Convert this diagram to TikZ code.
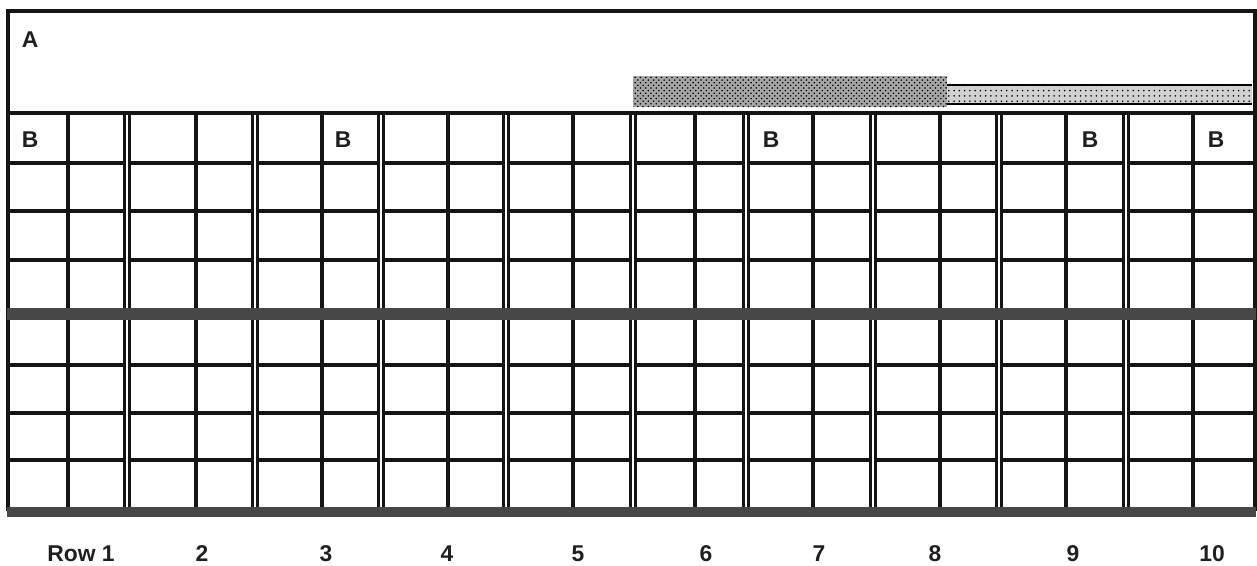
\documentclass[tikz,border=0pt]{standalone}
\usepackage{fontspec}
\setmainfont{Liberation Sans}
\usetikzlibrary{patterns}

\tikzset{
  gridline/.style={line width=2pt, draw=black!92},
  sepline/.style={double, line width=1.6pt, double distance=1.4pt, draw=black!92},
  band/.style={line width=6.8pt, draw=black!72},
  lbl/.style={font=\bfseries\fontsize{13}{15}\selectfont, inner sep=0pt, text=black!88},
}

\begin{document}
\begin{tikzpicture}[x=0.02cm, y=-0.02cm]
\useasboundingbox (0,0) rectangle (1257,565);

% shaded strips in the top field
\fill[black!35] (633,76) rectangle (947,107);
\fill[pattern=crosshatch dots, pattern color=black] (633,76) rectangle (947,107);
\fill[black!18] (947,85) rectangle (1252,104);
\fill[pattern=dots, pattern color=black] (947,85) rectangle (1252,104);
\draw[line width=1.6pt] (947,85) -- (1252,85) (947,104) -- (1252,104);

% cell lines
\foreach \y in {163,211,260,365,413,460}
  \draw[gridline] (8,\y) -- (1255,\y);
\foreach \x in {68,196,322,448,573,695,813,940,1066,1193}
  \draw[gridline] (\x,113) -- (\x,509);
\foreach \x in {127,255,381,506,633,746,873,999,1126}
  \draw[sepline] (\x,113) -- (\x,509);
\draw[gridline] (8,113) -- (1255,113);

% frame
\draw[gridline] (8,11) rectangle (1255,509);

% heavy bands
\draw[band] (7,314) -- (1256,314);
\draw[band, line width=5.4pt] (7,512) -- (1256,512);

% labels
\node[lbl] (a) at (30,40) {A};
\node[lbl] (b1) at (30,140) {B};
\node[lbl] (b2) at (343,140) {B};
\node[lbl] (b3) at (771,140) {B};
\node[lbl] (b4) at (1090,140) {B};
\node[lbl] (b5) at (1216,140) {B};

\foreach \x/\t [count=\i] in {81/Row 1,202/2,326/3,447/4,578/5,706/6,819/7,935/8,1073/9,1212/10}
  \node[lbl] (row\i) at (\x,554) {\t};
\end{tikzpicture}
\end{document}
